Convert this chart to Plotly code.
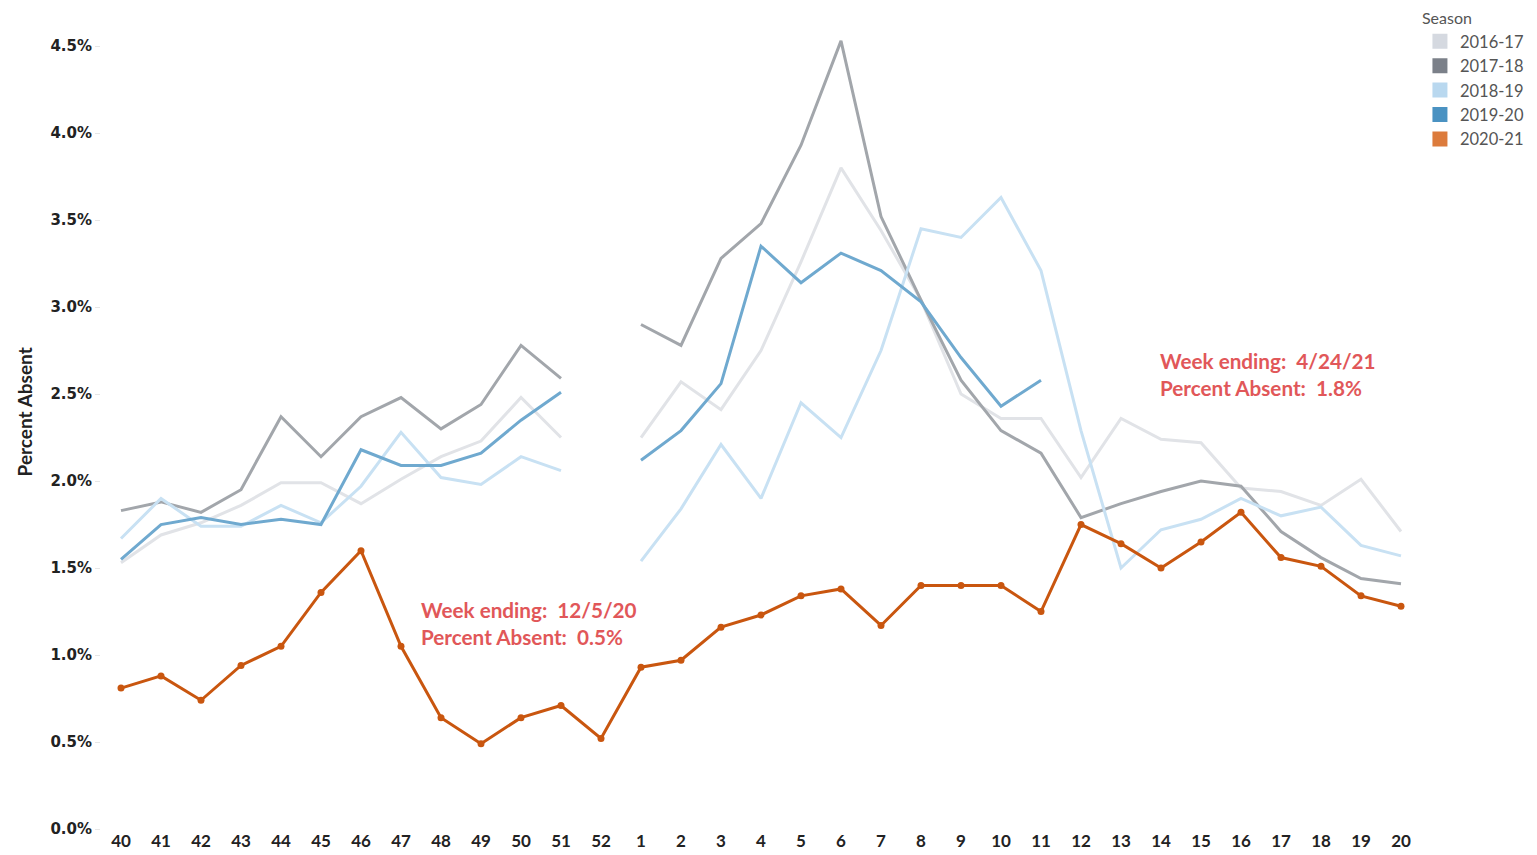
import plotly.graph_objects as go

weeks = ["40","41","42","43","44","45","46","47","48","49","50","51","52",
         "1","2","3","4","5","6","7","8","9","10","11","12","13","14","15","16","17","18","19","20"]

s2016_17 = [1.53,1.69,1.76,1.86,1.99,1.99,1.87,2.01,2.14,2.23,2.48,2.25,None,
            2.25,2.57,2.41,2.75,3.26,3.80,3.44,3.04,2.50,2.36,2.36,2.02,2.36,2.24,2.22,1.96,1.94,1.86,2.01,1.71]
s2017_18 = [1.83,1.88,1.82,1.95,2.37,2.14,2.37,2.48,2.30,2.44,2.78,2.59,None,
            2.90,2.78,3.28,3.48,3.93,4.53,3.52,3.04,2.58,2.29,2.16,1.79,1.87,1.94,2.00,1.97,1.71,1.56,1.44,1.41]
s2018_19 = [1.67,1.90,1.74,1.74,1.86,1.76,1.97,2.28,2.02,1.98,2.14,2.06,None,
            1.54,1.84,2.21,1.90,2.45,2.25,2.75,3.45,3.40,3.63,3.21,2.29,1.50,1.72,1.78,1.90,1.80,1.85,1.63,1.57]
s2019_20 = [1.55,1.75,1.79,1.75,1.78,1.75,2.18,2.09,2.09,2.16,2.35,2.51,None,
            2.12,2.29,2.56,3.35,3.14,3.31,3.21,3.03,2.71,2.43,2.58,None,None,None,None,None,None,None,None,None]
s2020_21 = [0.81,0.88,0.74,0.94,1.05,1.36,1.60,1.05,0.64,0.49,0.64,0.71,0.52,
            0.93,0.97,1.16,1.23,1.34,1.38,1.17,1.40,1.40,1.40,1.25,1.75,1.64,1.50,1.65,1.82,1.56,1.51,1.34,1.28]

seasons = ["2016-17","2017-18","2018-19","2019-20","2020-21"]
series = [s2016_17, s2017_18, s2018_19, s2019_20, s2020_21]
line_colors = ["#e1e3e7", "#a2a6ab", "#c8e1f3", "#6fa9cf", "#c9560f"]
legend_colors = ["#d5d9e0", "#7b8089", "#b9d8ef", "#4a92c2", "#dc7b3c"]

annot_texts = ["Week ending:  12/5/20<br>Percent Absent:  0.5%",
               "Week ending:  4/24/21<br>Percent Absent:  1.8%"]

fig = go.Figure()

for name, vals, col in zip(seasons, series, line_colors):
    is_cur = name == "2020-21"
    fig.add_trace(go.Scatter(
        x=weeks, y=vals, name=name, showlegend=False,
        mode="lines+markers" if is_cur else "lines",
        line=dict(color=col, width=3),
        marker=dict(size=7, color=col),
        connectgaps=False, hoverinfo="skip"))

for name, col in zip(seasons, legend_colors):
    fig.add_trace(go.Scatter(
        x=[None], y=[None], name=name, mode="markers",
        marker=dict(symbol="square", size=15, color=col),
        showlegend=True))

red_font = dict(family="Lato", size=20.7, color="#e15759", weight="bold")
fig.add_annotation(text=annot_texts[0], xref="paper", yref="paper",
                   x=0.2409, y=0.288, xanchor="left", yanchor="top", align="left",
                   showarrow=False, font=red_font)
fig.add_annotation(text=annot_texts[1], xref="paper", yref="paper",
                   x=0.8008, y=0.596, xanchor="left", yanchor="top", align="left",
                   showarrow=False, font=red_font)
fig.add_annotation(text="Percent Absent", xref="paper", yref="paper",
                   x=-0.0583, y=0.515, xanchor="center", yanchor="middle",
                   textangle=-90, showarrow=False,
                   font=dict(family="Lato", size=19, color="#222222", weight="bold"))

fig.update_layout(
    width=1529, height=847,
    margin=dict(l=93, r=116, t=12, b=26, autoexpand=False),
    plot_bgcolor="white", paper_bgcolor="white",
    legend=dict(title=dict(text="Season", font=dict(size=16, color="#555555", family="Lato")),
                font=dict(size=16.5, color="#555555", family="Lato"),
                x=0.9992, xanchor="left", y=1.0208, yanchor="top",
                itemsizing="trace", tracegroupgap=0, bgcolor="rgba(0,0,0,0)"),
    xaxis=dict(type="category", range=[-0.5, 32.5], showgrid=False, zeroline=False,
               showline=False, ticks="", categoryorder="array", categoryarray=weeks,
               automargin=False,
               tickfont=dict(family="Lato", size=17, color="#222222", weight="bold")),
    yaxis=dict(range=[0, 4.65], tickvals=[0,0.5,1,1.5,2,2.5,3,3.5,4,4.5],
               ticktext=["0.0%","0.5%","1.0%","1.5%","2.0%","2.5%","3.0%","3.5%","4.0%","4.5%"],
               showgrid=False, zeroline=False, showline=False, automargin=False,
               ticks="outside", ticklen=5, tickcolor="#e6e6e6",
               tickfont=dict(family="DejaVu Sans", size=15, color="#222222", weight="bold")),
)

fig.write_html("out.html")
